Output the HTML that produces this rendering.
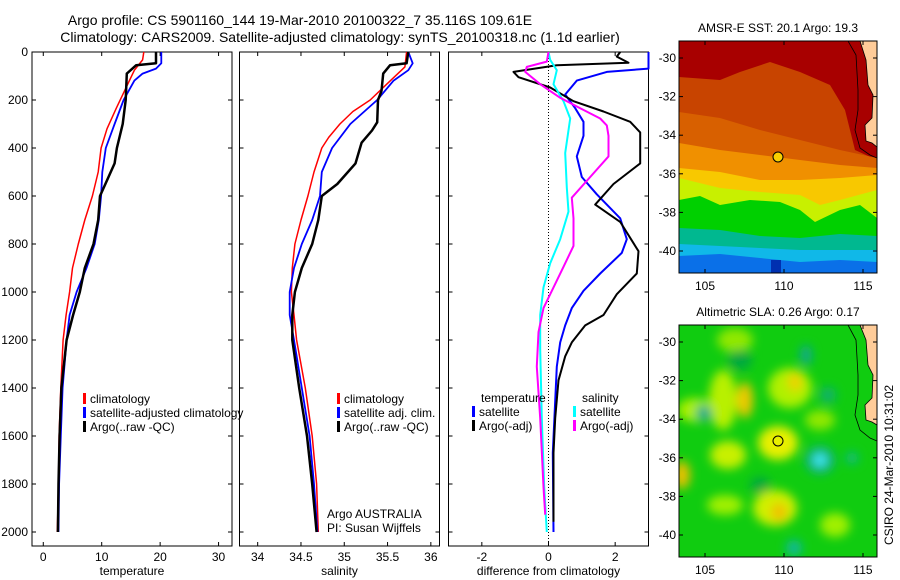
<!DOCTYPE html>
<html><head><meta charset="utf-8">
<style>
html,body{margin:0;padding:0;background:#fff;}
svg{display:block;font-family:"Liberation Sans",sans-serif;}
text{fill:#000;}
</style></head>
<body>
<svg id="fig" width="900" height="580" viewBox="0 0 900 580">
<defs>
<filter id="blur6" x="-50%" y="-50%" width="200%" height="200%"><feGaussianBlur stdDeviation="5"/></filter>
<clipPath id="clipTop"><rect x="679" y="41" width="198" height="232"/></clipPath>
<clipPath id="clipBot"><rect x="679" y="325" width="198" height="232"/></clipPath>
</defs>
<text x="300" y="25" font-size="14" text-anchor="middle">Argo profile: CS 5901160_144 19-Mar-2010 20100322_7 35.116S 109.61E</text>
<text x="340" y="42" font-size="14" text-anchor="middle">Climatology: CARS2009. Satellite-adjusted climatology: synTS_20100318.nc (1.1d earlier)</text>

<!-- SST map -->
<g>
<text x="778" y="32" font-size="12" text-anchor="middle">AMSR-E SST: 20.1 Argo: 19.3</text>
<g clip-path="url(#clipTop)">
<rect x="679" y="41" width="198" height="232" fill="#a80000"/>
<path d="M679,77 L720,80 L740,72 L770,62 L800,72 L830,85 L845,110 L855,150 L877,160 L877,273 L679,273Z" fill="#c84400"/>
<path d="M679,112 L720,118 L760,130 L800,140 L840,150 L877,158 L877,273 L679,273Z" fill="#d86000"/>
<path d="M679,143 L720,150 L760,155 L800,160 L840,165 L877,168 L877,273 L679,273Z" fill="#f09000"/>
<path d="M679,168 L720,172 L760,180 L800,180 L840,178 L877,175 L877,273 L679,273Z" fill="#f8c800"/>
<path d="M679,178 L720,188 L760,192 L800,195 L820,205 L840,200 L877,190 L877,273 L679,273Z" fill="#c8f000"/>
<path d="M679,200 L700,196 L720,205 L750,200 L780,202 L800,210 L815,222 L840,210 L860,205 L877,218 L877,273 L679,273Z" fill="#00d000"/>
<path d="M679,228 L720,230 L760,236 L800,238 L840,234 L877,236 L877,273 L679,273Z" fill="#00b890"/>
<path d="M679,244 L720,246 L760,248 L800,250 L840,250 L877,250 L877,273 L679,273Z" fill="#10b8e8"/>
<path d="M679,256 L720,254 L760,258 L800,262 L840,260 L877,262 L877,273 L679,273Z" fill="#0a70e8"/>
<rect x="771" y="260" width="10" height="13" fill="#0030b0"/>
<path d="M860,41 L877,41 L877,147 L872,143 L866,141 L865,125 L872,118 L873,95 L868,85 L866,60 Z" fill="#ffcc99" stroke="#000" stroke-width="0.8"/>
<path d="M848,41 L856,55 L858,90 L858,110 L855,130 L860,148 L870,155 L877,158" fill="none" stroke="#000" stroke-width="0.8"/>
</g>
<rect x="679" y="41" width="198" height="232" fill="none" stroke="#000" stroke-width="1"/>
<circle cx="778" cy="157" r="5" fill="#f8d000" stroke="#000" stroke-width="1"/>
<g id="mapTopAxes"></g>
</g>

<!-- SLA map -->
<g>
<text x="778" y="316" font-size="12" text-anchor="middle">Altimetric SLA: 0.26 Argo: 0.17</text>
<g clip-path="url(#clipBot)">
<rect x="679" y="325" width="198" height="232" fill="#10cc10"/>
<g filter="url(#blur6)">
<ellipse cx="735" cy="340" rx="18" ry="12" fill="#90e800"/>
<ellipse cx="695" cy="410" rx="18" ry="12" fill="#a8f000"/>
<ellipse cx="723" cy="400" rx="14" ry="30" fill="#b8f000"/>
<ellipse cx="745" cy="400" rx="8" ry="18" fill="#f0c800"/>
<ellipse cx="790" cy="388" rx="22" ry="20" fill="#b0f000"/>
<ellipse cx="795" cy="382" rx="7" ry="9" fill="#f0d000"/>
<ellipse cx="778" cy="443" rx="20" ry="17" fill="#e8f000"/>
<ellipse cx="728" cy="455" rx="18" ry="14" fill="#c8f000"/>
<ellipse cx="775" cy="508" rx="22" ry="18" fill="#d0f000"/>
<ellipse cx="779" cy="512" rx="8" ry="9" fill="#f0c000"/>
<ellipse cx="725" cy="505" rx="18" ry="10" fill="#a0f000"/>
<ellipse cx="682" cy="475" rx="8" ry="14" fill="#f0c000"/>
<ellipse cx="835" cy="525" rx="15" ry="12" fill="#a0f000"/>
<ellipse cx="820" cy="420" rx="15" ry="10" fill="#90e800"/>
<ellipse cx="740" cy="360" rx="12" ry="10" fill="#00a840"/>
<ellipse cx="760" cy="485" rx="10" ry="8" fill="#00a840"/>
<ellipse cx="820" cy="460" rx="15" ry="14" fill="#10b080"/>
<ellipse cx="820" cy="460" rx="7" ry="7" fill="#40e8f0"/>
<ellipse cx="806" cy="355" rx="6" ry="10" fill="#10a890"/>
<ellipse cx="704" cy="413" rx="8" ry="8" fill="#10a890"/>
<ellipse cx="794" cy="548" rx="8" ry="8" fill="#10b8a0"/>
<ellipse cx="852" cy="458" rx="6" ry="6" fill="#10b890"/>
<ellipse cx="828" cy="395" rx="8" ry="8" fill="#10b070"/>
</g>
<path d="M860,325 L877,325 L877,425 L872,422 L866,420 L865,405 L872,398 L873,375 L868,365 L866,340 Z" fill="#ffcc99" stroke="#000" stroke-width="0.8"/>
<path d="M848,325 L856,340 L858,375 L858,395 L855,415 L860,430 L870,438 L877,441" fill="none" stroke="#000" stroke-width="0.8"/>
</g>
<rect x="679" y="325" width="198" height="232" fill="none" stroke="#000" stroke-width="1"/>
<circle cx="778" cy="441" r="5" fill="none" stroke="#000" stroke-width="1"/>
<g id="mapBotAxes"></g>
</g>
<text x="0" y="0" font-size="12" transform="translate(893,465) rotate(-90)" text-anchor="middle">CSIRO 24-Mar-2010 10:31:02</text>

<g id="panels"></g>
</svg>
<script>
// ---- data ----
var depthTicks = [0,200,400,600,800,1000,1200,1400,1600,1800,2000];
var tempTicks = [0,10,20,30];
var salTicks = [34,34.5,35,35.5,36];
var diffTicks = [-2,0,2];
var latTicks = [-30,-32,-34,-36,-38,-40];
var lonTicks = [105,110,115];

var tClimT = [17.2,17.0,15.6,13.9,12.5,10.9,9.9,9.4,8.4,7.1,6.0,5.0,4.5,3.9,3.4,3.0,2.7,2.6,2.4];
var tClimD = [0,33,76,162,234,320,400,500,600,700,800,900,1000,1096,1200,1400,1600,1800,2000];
var tSatT = [20.2,20.2,19.3,17.0,15.6,13.75,12.2,10.7,10.1,9.9,9.5,8.8,7.4,5.7,4.5,4.0,3.3,3.0,2.7,2.6];
var tSatD = [0,47,69,90,119,200,300,400,500,600,700,800,900,1000,1096,1200,1400,1600,1800,2000];
var tArgoT = [19.3,19.3,15.9,14.3,14.1,13.6,12.6,12.2,9.7,9.4,8.6,7.1,6.25,5.1,4.0,3.1,2.8,2.6,2.5];
var tArgoD = [0,47,55,90,200,300,400,464,600,700,800,900,1000,1096,1200,1400,1600,1800,2000];

var sClimS = [35.72,35.70,35.49,35.3,35.1,34.95,34.82,34.74,34.65,34.58,34.5,34.43,34.4,34.39,34.42,34.45,34.55,34.63,34.68,34.7];
var sClimD = [0,62,134,200,248,300,356,400,500,600,700,800,900,1000,1096,1200,1400,1600,1800,2000];
var sSatS = [35.74,35.79,35.74,35.57,35.38,35.07,34.86,34.74,34.72,34.63,34.51,34.42,34.37,34.37,34.42,34.51,34.6,34.65,34.69];
var sSatD = [0,47,76,119,200,300,400,500,600,700,800,900,1000,1096,1200,1400,1600,1800,2000];
var sArgoS = [35.74,35.72,35.53,35.45,35.43,35.39,35.38,35.32,35.2,35.13,34.92,34.74,34.7,34.63,34.51,34.43,34.4,34.4,34.48,34.57,34.63,34.68];
var sArgoD = [0,47,55,90,162,200,293,327,378,464,550,600,700,800,900,1000,1096,1200,1400,1600,1800,2000];

var dTSat = [3.2,3.2,1.75,0.85,0.5,0.8,1.05,1.05,0.85,1.0,1.45,2.15,2.35,2.2,1.55,1.05,0.7,0.5,0.35,0.25,0.2,0.13,0.15];
var dTSatD = [0,69,83,119,177,234,291,349,435,521,593,693,780,837,923,995,1067,1139,1210,1311,1454,1670,2000];
var dTArgo = [2.15,2.05,2.4,0.25,-1.05,-0.9,0.05,0.75,1.65,2.45,2.75,2.75,2.75,1.95,1.4,2.15,2.7,2.65,2.05,1.65,1.1,0.7,0.5,0.3,0.2,0.15,0.15];
var dTArgoD = [0,19,45,55,83,105,148,205,248,291,335,363,464,550,636,708,830,923,1009,1096,1139,1210,1268,1368,1526,1670,1957];
var dSSat = [0,0.05,0.25,0.15,0.45,0.65,0.5,0.55,0.6,0.35,0.05,-0.15,-0.25,-0.25,-0.2,-0.13,-0.05];
var dSSatD = [0,33,76,134,205,277,421,564,665,780,880,981,1096,1239,1526,1813,2000];
var dSArgo = [0,-0.05,-0.65,-0.7,-0.25,0.35,0.95,1.55,1.75,1.8,1.8,1.25,0.7,0.75,0.75,0.45,0.15,-0.15,-0.3,-0.35,-0.25,-0.15,-0.1];
var dSArgoD = [0,40,62,83,134,191,234,277,306,349,435,521,607,693,808,895,981,1067,1167,1311,1526,1813,1928];

var NS = 'http://www.w3.org/2000/svg';
var root = document.getElementById('panels');
function mk(tag, attrs, parent){var e=document.createElementNS(NS,tag);for(var k in attrs)e.setAttribute(k,attrs[k]);(parent||root).appendChild(e);return e;}

var Y0 = 52, Y1 = 546;
function yScale(d){ return 52 + d*0.24; }

function panel(name, x0, x1, xmin, xmax, ticks, labelY, xlabel){
  var g = mk('g',{});
  
  
  var sx = function(v){ return x0 + (v - xmin)/(xmax - xmin)*(x1 - x0); };
  var fr = mk('rect',{x:x0,y:Y0,width:x1-x0,height:Y1-Y0,fill:'none',stroke:'#000','stroke-width':1},g);
  
  
  depthTicks.forEach(function(d){
    var y = yScale(d);
    mk('line',{x1:x0,x2:x0+4,y1:y,y2:y,stroke:'#000'},g);
    mk('line',{x1:x1-4,x2:x1,y1:y,y2:y,stroke:'#000'},g);
    if(labelY){
      var t = mk('text',{x:x0-4,y:y+4,'font-size':12,'text-anchor':'end'},g);
      t.textContent = d;
      
      
    }
  });
  ticks.forEach(function(v){
    var x = sx(v);
    mk('line',{x1:x,x2:x,y1:Y1,y2:Y1-4,stroke:'#000'},g);
    mk('line',{x1:x,x2:x,y1:Y0,y2:Y0+4,stroke:'#000'},g);
    var t = mk('text',{x:x,y:Y1+15,'font-size':12,'text-anchor':'middle'},g);
    t.textContent = v;
    
    
  });
  var xl = mk('text',{x:(x0+x1)/2,y:575,'font-size':12,'text-anchor':'middle'},g);
  xl.textContent = xlabel;
  
  
  return {g:g, sx:sx, x0:x0, x1:x1};
}
function series(p, name, vals, deps, color, w){
  var pts = vals.map(function(v,i){ var x=Math.max(p.x0,Math.min(p.x1,p.sx(v))); return x.toFixed(1)+','+yScale(deps[i]).toFixed(1); }).join(' ');
  var l = mk('polyline',{points:pts,fill:'none',stroke:color,'stroke-width':w,'stroke-linejoin':'round'},p.g);
  
  
}
function legendRow(p, x, y, color, label, name){
  var m = mk('rect',{x:x,y:y-10,width:3,height:11,fill:color},p.g);
  
  
  var t = mk('text',{x:x+7,y:y,'font-size':12},p.g);
  t.textContent = label;
  
  
}

var p1 = panel('temperature-panel', 32, 232, -1.93, 32.3, tempTicks, true, 'temperature');
series(p1,'temp-climatology-line',tClimT,tClimD,'#ff0000',1.5);
series(p1,'temp-satellite-line',tSatT,tSatD,'#0000ff',1.8);
series(p1,'temp-argo-line',tArgoT,tArgoD,'#000000',2.5);
legendRow(p1,83,403,'#ff0000','climatology','legend-climatology');
legendRow(p1,83,417,'#0000ff','satellite-adjusted climatology','legend-satellite');
legendRow(p1,83,431,'#000000','Argo(..raw -QC)','legend-argo');

var p2 = panel('salinity-panel', 239.5, 439.5, 33.79, 36.1, salTicks, false, 'salinity');
series(p2,'sal-climatology-line',sClimS,sClimD,'#ff0000',1.5);
series(p2,'sal-satellite-line',sSatS,sSatD,'#0000ff',1.8);
series(p2,'sal-argo-line',sArgoS,sArgoD,'#000000',2.5);
legendRow(p2,337,403,'#ff0000','climatology','legend-climatology');
legendRow(p2,337,417,'#0000ff','satellite adj. clim.','legend-satellite');
legendRow(p2,337,431,'#000000','Argo(..raw -QC)','legend-argo');
var a1 = mk('text',{x:327,y:518,'font-size':12},p2.g); a1.textContent='Argo AUSTRALIA';


var a2 = mk('text',{x:327,y:532,'font-size':12},p2.g); a2.textContent='PI: Susan Wijffels';



var p3 = panel('difference-panel', 448.5, 648.5, -3.0, 3.0, diffTicks, false, 'difference from climatology');
var zl = mk('line',{x1:p3.sx(0),x2:p3.sx(0),y1:Y0,y2:Y1,stroke:'#000','stroke-width':1,'stroke-dasharray':'1,2'},p3.g);


series(p3,'diff-temp-satellite-line',dTSat,dTSatD,'#0000ff',2);
series(p3,'diff-temp-argo-line',dTArgo,dTArgoD,'#000000',2);
series(p3,'diff-sal-satellite-line',dSSat,dSSatD,'#00ffff',2);
series(p3,'diff-sal-argo-line',dSArgo,dSArgoD,'#ff00ff',2);
var lt = mk('text',{x:481,y:402,'font-size':12},p3.g); lt.textContent='temperature';


var ls = mk('text',{x:582,y:402,'font-size':12},p3.g); ls.textContent='salinity';


legendRow(p3,472,416,'#0000ff','satellite','legend-temp-satellite');
legendRow(p3,472,430,'#000000','Argo(-adj)','legend-temp-argo');
legendRow(p3,573,416,'#00ffff','satellite','legend-sal-satellite');
legendRow(p3,573,430,'#ff00ff','Argo(-adj)','legend-sal-argo');

// map axes
function mapAxes(id, top, latAt30, pxPerLat, labelY){
  var g = document.getElementById(id);
  latTicks.forEach(function(v){
    var y = latAt30 + (-30 - v)*pxPerLat;
    mk('line',{x1:679,x2:683,y1:y,y2:y,stroke:'#000'},g);
    mk('line',{x1:873,x2:877,y1:y,y2:y,stroke:'#000'},g);
    var t = mk('text',{x:676,y:y+4,'font-size':12,'text-anchor':'end'},g);
    t.textContent = v;
    
    
  });
  lonTicks.forEach(function(v){
    var x = 705 + (v-105)*15.8;
    mk('line',{x1:x,x2:x,y1:top,y2:top+4,stroke:'#000'},g);
    mk('line',{x1:x,x2:x,y1:top+232,y2:top+228,stroke:'#000'},g);
    var t = mk('text',{x:x,y:labelY,'font-size':12,'text-anchor':'middle'},g);
    t.textContent = v;
    
    
  });
}
mapAxes('mapTopAxes', 41, 58, 19.3, 290);
mapAxes('mapBotAxes', 325, 342, 19.3, 574);
</script>
</body></html>
